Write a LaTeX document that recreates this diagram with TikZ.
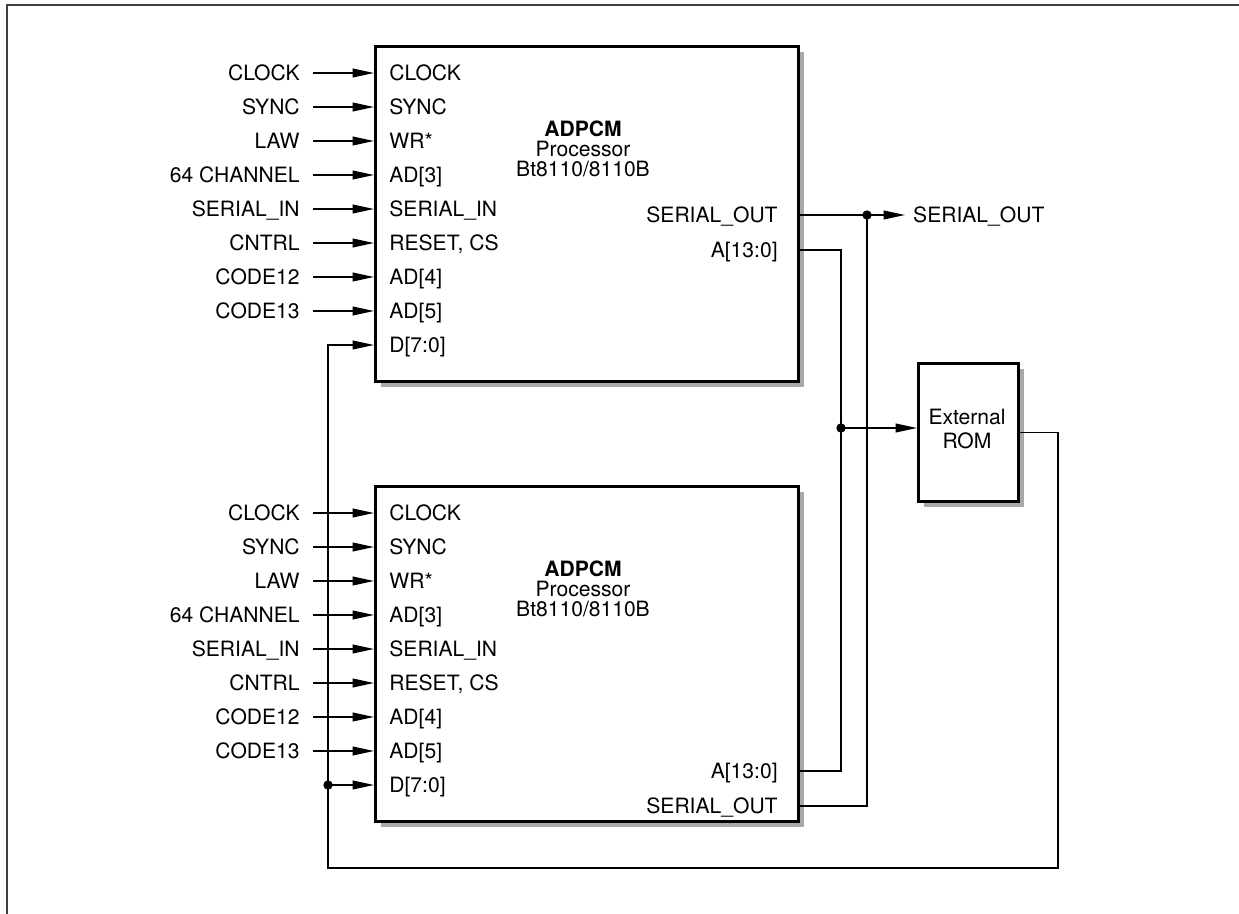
\documentclass[tikz,border=0pt]{standalone}
\usepackage{fontspec}
\setmainfont{TeX Gyre Heros}
\usetikzlibrary{arrows.meta, shadows}

\tikzset{
  chip/.style={draw, line width=1.5pt, fill=white, anchor=north west,
    drop shadow={shadow xshift=3pt, shadow yshift=-3pt, fill=black!34, opacity=1}},
  pin/.style={inner sep=0pt, text height=7.7pt, text depth=0pt, anchor=west},
  inlbl/.style={inner sep=0pt, text height=7.7pt, text depth=0pt, anchor=east},
  wire/.style={line width=0.8pt},
  arr/.style={wire, -{Triangle[length=11pt, width=4.5pt]}},
}

\begin{document}
\begin{tikzpicture}[x=0.018cm, y=-0.018cm, font=\fontsize{10.8}{12}\selectfont]
\useasboundingbox (0,0) rectangle (1239,914);

% Page frame
\draw[black!75, line width=1pt] (1239,5) -- (7,5) -- (7,914);

% ADPCM processors and external ROM
\node[chip, minimum width=7.614cm, minimum height=6.03cm] (chipA) at (374,45) {};
\node[chip, minimum width=7.614cm, minimum height=6.03cm] (chipB) at (374,485) {};
\node[chip, minimum width=1.8cm, minimum height=2.484cm] (rom) at (917,362) {};

\node[align=center, font=\fontsize{10.8}{10.2}\selectfont] (titleA) at (583,149) {\textbf{ADPCM}\\Processor\\Bt8110/8110B};
\node[align=center, font=\fontsize{10.8}{10.2}\selectfont] (titleB) at (583,589) {\textbf{ADPCM}\\Processor\\Bt8110/8110B};
\node[align=center, font=\fontsize{10.8}{12.8}\selectfont] (romText) at (967,429) {External\\ROM};

% Inputs, processor A
\node[inlbl] (inA1) at (300,73) {CLOCK};       \node[pin] (pinA1) at (389,73) {CLOCK};
\node[inlbl] (inA2) at (300,107) {SYNC};       \node[pin] (pinA2) at (389,107) {SYNC};
\node[inlbl] (inA3) at (300,141) {LAW};        \node[pin] (pinA3) at (389,141) {WR*};
\node[inlbl] (inA4) at (300,175) {64 CHANNEL}; \node[pin] (pinA4) at (389,175) {AD[3]};
\node[inlbl] (inA5) at (300,209) {SERIAL\_IN}; \node[pin] (pinA5) at (389,209) {SERIAL\_IN};
\node[inlbl] (inA6) at (300,243) {CNTRL};      \node[pin] (pinA6) at (389,243) {RESET, CS};
\node[inlbl] (inA7) at (300,277) {CODE12};     \node[pin] (pinA7) at (389,277) {AD[4]};
\node[inlbl] (inA8) at (300,311) {CODE13};     \node[pin] (pinA8) at (389,311) {AD[5]};
\node[pin] (pinA9) at (389,345) {D[7:0]};

\draw[arr] ([xshift=6.6pt]inA1.east) -- (chipA.west |- inA1);
\draw[arr] ([xshift=6.6pt]inA2.east) -- (chipA.west |- inA2);
\draw[arr] ([xshift=6.6pt]inA3.east) -- (chipA.west |- inA3);
\draw[arr] ([xshift=6.6pt]inA4.east) -- (chipA.west |- inA4);
\draw[arr] ([xshift=6.6pt]inA5.east) -- (chipA.west |- inA5);
\draw[arr] ([xshift=6.6pt]inA6.east) -- (chipA.west |- inA6);
\draw[arr] ([xshift=6.6pt]inA7.east) -- (chipA.west |- inA7);
\draw[arr] ([xshift=6.6pt]inA8.east) -- (chipA.west |- inA8);

% Inputs, processor B
\node[inlbl] (inB1) at (300,513) {CLOCK};       \node[pin] (pinB1) at (389,513) {CLOCK};
\node[inlbl] (inB2) at (300,547) {SYNC};       \node[pin] (pinB2) at (389,547) {SYNC};
\node[inlbl] (inB3) at (300,581) {LAW};        \node[pin] (pinB3) at (389,581) {WR*};
\node[inlbl] (inB4) at (300,615) {64 CHANNEL}; \node[pin] (pinB4) at (389,615) {AD[3]};
\node[inlbl] (inB5) at (300,649) {SERIAL\_IN}; \node[pin] (pinB5) at (389,649) {SERIAL\_IN};
\node[inlbl] (inB6) at (300,683) {CNTRL};      \node[pin] (pinB6) at (389,683) {RESET, CS};
\node[inlbl] (inB7) at (300,717) {CODE12};     \node[pin] (pinB7) at (389,717) {AD[4]};
\node[inlbl] (inB8) at (300,751) {CODE13};     \node[pin] (pinB8) at (389,751) {AD[5]};
\node[pin] (pinB9) at (389,785) {D[7:0]};

\draw[arr] ([xshift=6.6pt]inB1.east) -- (chipB.west |- inB1);
\draw[arr] ([xshift=6.6pt]inB2.east) -- (chipB.west |- inB2);
\draw[arr] ([xshift=6.6pt]inB3.east) -- (chipB.west |- inB3);
\draw[arr] ([xshift=6.6pt]inB4.east) -- (chipB.west |- inB4);
\draw[arr] ([xshift=6.6pt]inB5.east) -- (chipB.west |- inB5);
\draw[arr] ([xshift=6.6pt]inB6.east) -- (chipB.west |- inB6);
\draw[arr] ([xshift=6.6pt]inB7.east) -- (chipB.west |- inB7);
\draw[arr] ([xshift=6.6pt]inB8.east) -- (chipB.west |- inB8);

% Outputs
\node[inlbl] (soA) at (778,215) {SERIAL\_OUT};
\node[inlbl] (adA) at (778,250) {A[13:0]};
\node[inlbl] (adB) at (778,771) {A[13:0]};
\node[inlbl] (soB) at (778,806) {SERIAL\_OUT};
\node[pin, inner xsep=4pt] (soExt) at (905,215) {SERIAL\_OUT};

% Buses
\coordinate (jSO) at (867,215);
\coordinate (jA) at (841,428);
\coordinate (jD) at (328,785);
\coordinate (loopEnd) at (1058,868);

\draw[arr] (chipA.east |- soA) -- (soExt.west);
\draw[wire] (chipB.east |- soB) -| (jSO);
\draw[wire] (chipA.east |- adA) -| (jA) |- (chipB.east |- adB);
\draw[arr] (jA) -- (rom.west |- jA);
\draw[arr] (rom.east) -| (loopEnd) -| (jD) |- (chipA.west |- pinA9);
\draw[arr] (jD) -- (chipB.west |- pinB9);

\fill (jSO) circle (2.4pt);
\fill (jA) circle (2.4pt);
\fill (jD) circle (2.4pt);

\end{tikzpicture}
\end{document}
